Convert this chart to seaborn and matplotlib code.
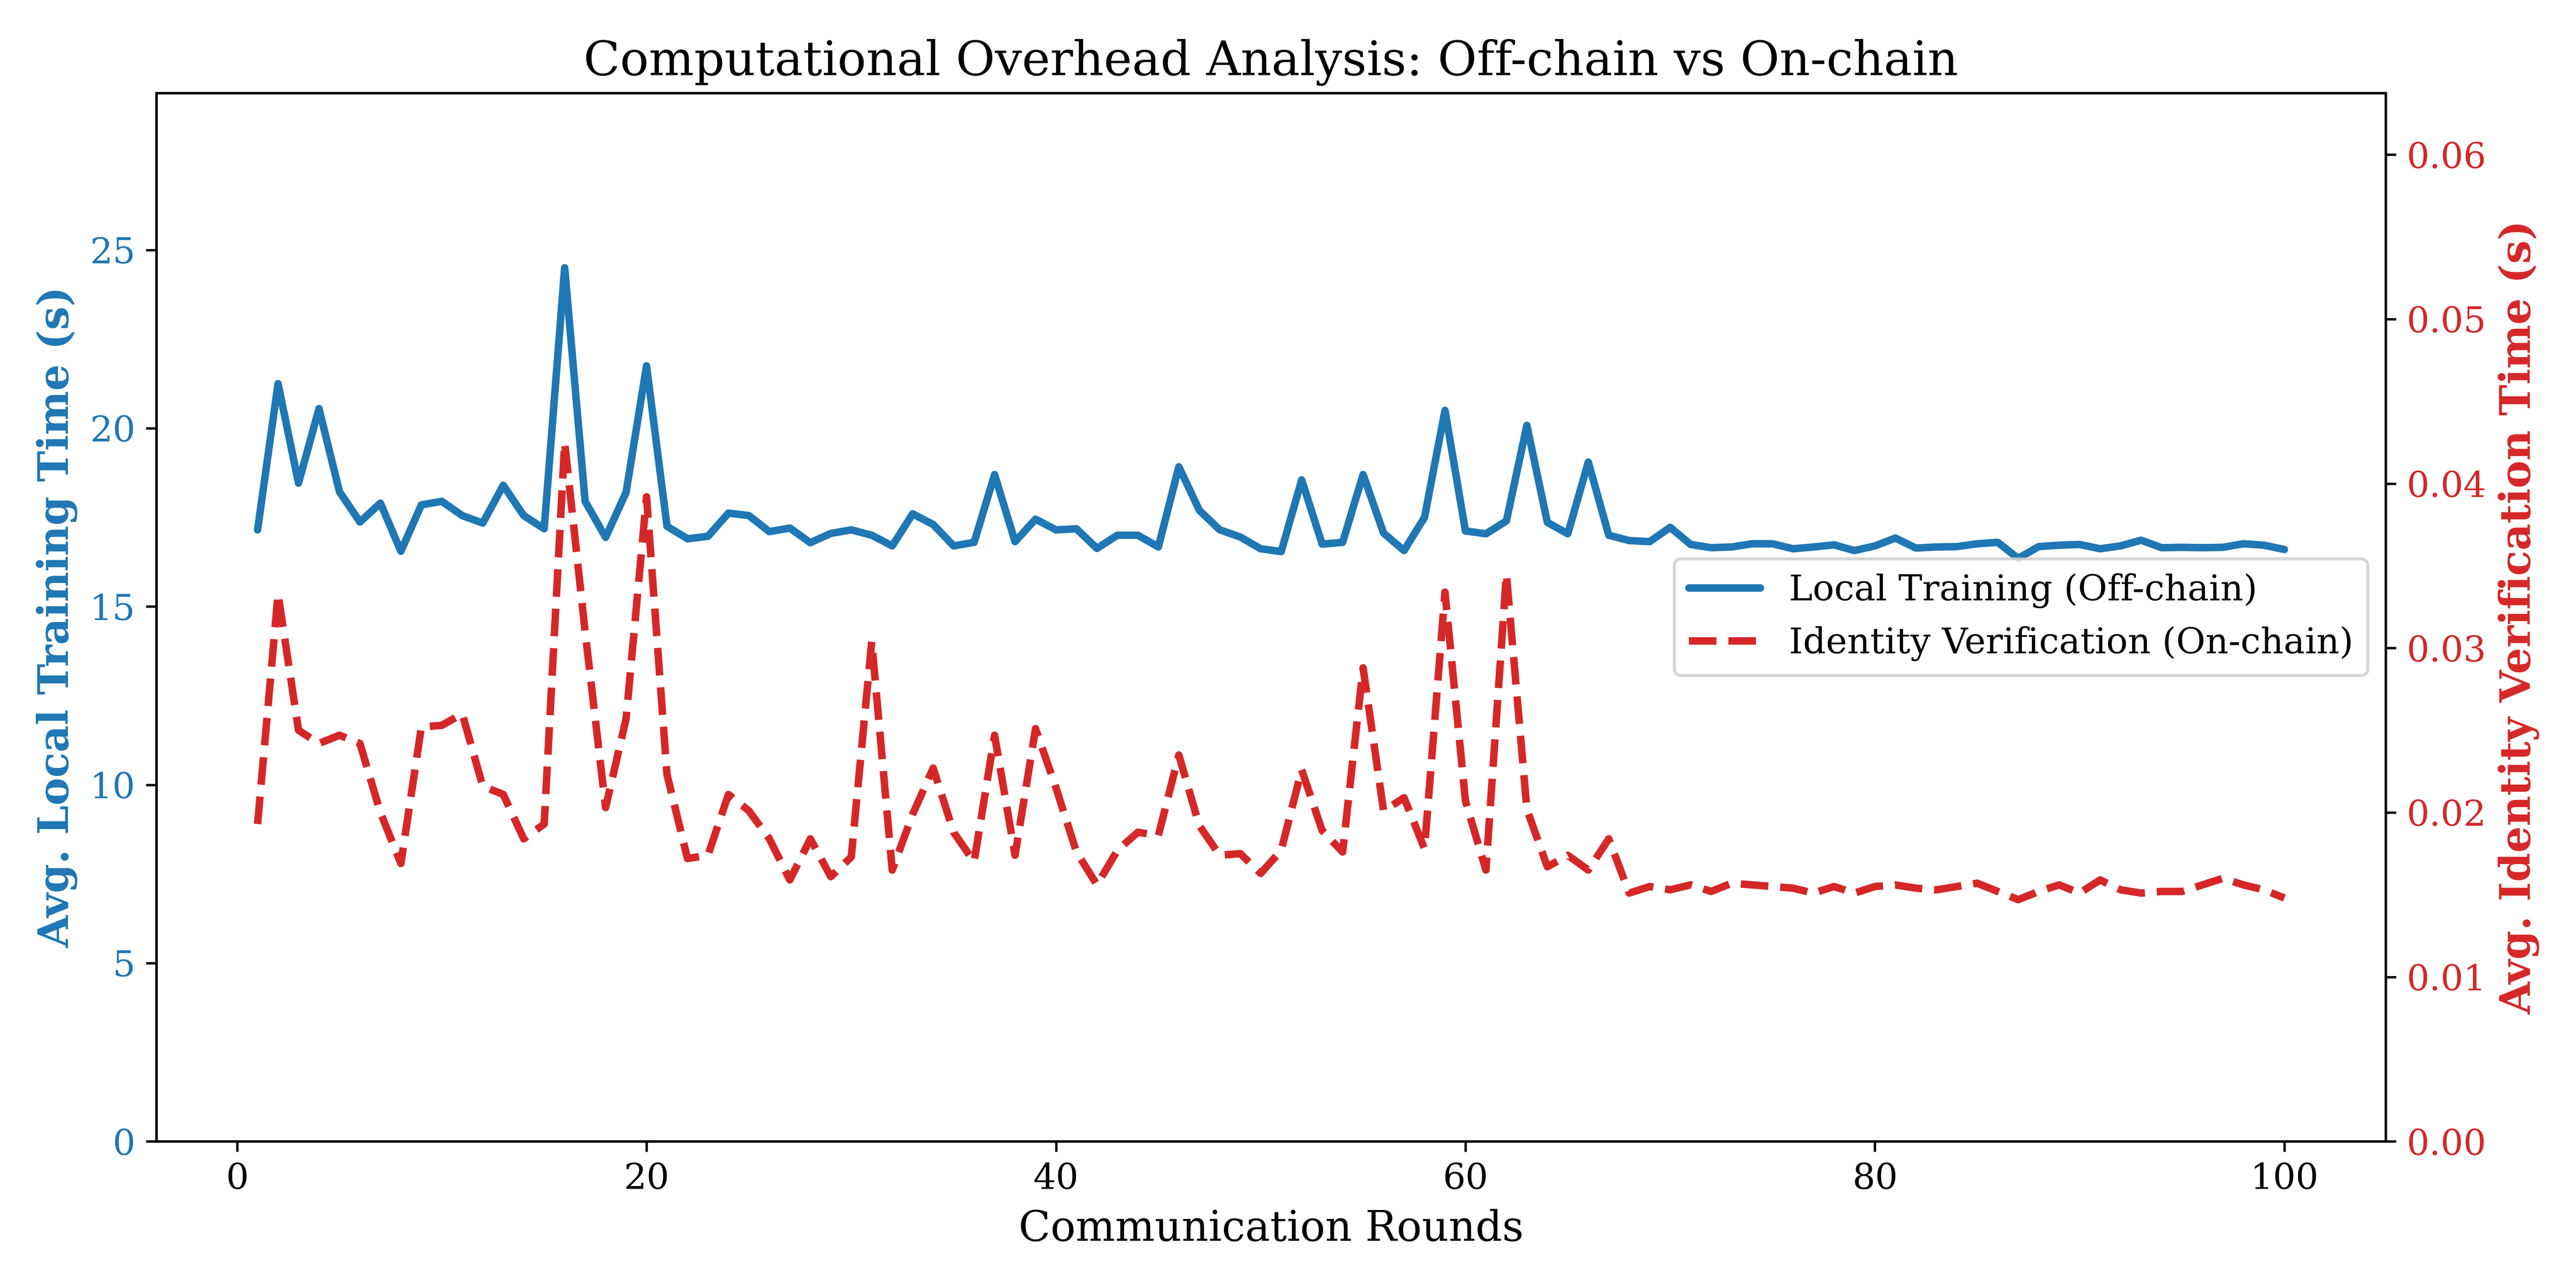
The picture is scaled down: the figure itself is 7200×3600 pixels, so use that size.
import numpy as np
import pandas as pd
import matplotlib
matplotlib.use("Agg")
import matplotlib.pyplot as plt
import seaborn as sns

rounds = list(range(1, 101))

# Avg. local training time per round (s), off-chain
training_time = [
    17.15, 21.25, 18.46, 20.55, 18.22, 17.37, 17.90, 16.55, 17.85, 17.95,
    17.55, 17.34, 18.40, 17.55, 17.18, 24.50, 17.95, 16.94, 18.20, 21.75,
    17.25, 16.90, 16.97, 17.62, 17.55, 17.10, 17.20, 16.79, 17.05, 17.15,
    17.00, 16.70, 17.60, 17.30, 16.70, 16.80, 18.70, 16.82, 17.45, 17.15,
    17.18, 16.63, 17.00, 17.00, 16.67, 18.92, 17.70, 17.15, 16.95, 16.62,
    16.54, 18.55, 16.75, 16.80, 18.70, 17.06, 16.57, 17.50, 20.50, 17.12,
    17.04, 17.40, 20.08, 17.36, 17.04, 19.05, 17.00, 16.85, 16.82, 17.22,
    16.74, 16.65, 16.67, 16.76, 16.76, 16.62, 16.67, 16.73, 16.57, 16.70,
    16.92, 16.64, 16.67, 16.68, 16.76, 16.80, 16.35, 16.68, 16.72, 16.74,
    16.62, 16.70, 16.86, 16.65, 16.66, 16.65, 16.66, 16.76, 16.72, 16.60,
]

# Avg. identity verification time per round (s), on-chain
verify_time = [
    0.0193, 0.0333, 0.0250, 0.0242, 0.0247, 0.0242, 0.0200, 0.0169, 0.0252, 0.0253,
    0.0260, 0.0216, 0.0211, 0.0184, 0.0193, 0.0425, 0.0310, 0.0203, 0.0257, 0.0392,
    0.0223, 0.0172, 0.0174, 0.0211, 0.0201, 0.0184, 0.0159, 0.0184, 0.0161, 0.0173,
    0.0304, 0.0165, 0.0199, 0.0227, 0.0188, 0.0170, 0.0247, 0.0174, 0.0251, 0.0215,
    0.0176, 0.0156, 0.0177, 0.0188, 0.0186, 0.0235, 0.0192, 0.0174, 0.0175, 0.0163,
    0.0177, 0.0226, 0.0189, 0.0176, 0.0288, 0.0201, 0.0209, 0.0178, 0.0334, 0.0207,
    0.0165, 0.0345, 0.0202, 0.0167, 0.0174, 0.0165, 0.0184, 0.0151, 0.0155, 0.0153,
    0.0156, 0.0152, 0.0157, 0.0156, 0.0155, 0.0154, 0.0151, 0.0155, 0.0151, 0.0155,
    0.0156, 0.0154, 0.0153, 0.0155, 0.0157, 0.0152, 0.0147, 0.0152, 0.0156, 0.0151,
    0.0159, 0.0153, 0.0151, 0.0152, 0.0152, 0.0156, 0.0160, 0.0156, 0.0153, 0.0148,
]

label_train = "Local Training (Off-chain)"
label_verify = "Identity Verification (On-chain)"
color_train = "#1f77b4"
color_verify = "#d62728"

# plain matplotlib-looking frame: thin spines, short ticks
sns.set_theme(style="ticks", rc={
    "axes.edgecolor": "black",
    "axes.linewidth": 0.8,
    "text.color": "black",
    "axes.labelcolor": "black",
    "xtick.color": "black",
    "ytick.color": "black",
    "xtick.major.size": 3.5,
    "ytick.major.size": 3.5,
    "xtick.major.width": 0.8,
    "ytick.major.width": 0.8,
    "xtick.major.pad": 3.5,
    "ytick.major.pad": 3.5,
})
plt.rcParams["font.family"] = ["DejaVu Serif"]

df = pd.DataFrame({
    "round": rounds,
    "train": training_time,
    "verify": verify_time,
})

fig, ax1 = plt.subplots(figsize=(12, 6))

sns.lineplot(data=df, x="round", y="train", ax=ax1, color=color_train,
             linewidth=2.5, label=label_train)
ax1.set_xlabel("Communication Rounds", fontsize=14)
ax1.set_ylabel("Avg. Local Training Time (s)", fontsize=14,
               fontweight="bold", color=color_train)
ax1.tick_params(axis="y", labelcolor=color_train, labelsize=12)
ax1.tick_params(axis="x", labelsize=12)
ax1.set_ylim(0, max(training_time) * 1.2)

ax2 = ax1.twinx()
sns.lineplot(data=df, x="round", y="verify", ax=ax2, color=color_verify,
             linewidth=2.5, linestyle="--", label=label_verify)
ax2.set_ylabel("Avg. Identity Verification Time (s)", fontsize=14,
               fontweight="bold", color=color_verify)
ax2.tick_params(axis="y", labelcolor=color_verify, labelsize=12)
ax2.set_ylim(0, max(verify_time) * 1.5)

# one legend for both axes
h1, l1 = ax1.get_legend_handles_labels()
h2, l2 = ax2.get_legend_handles_labels()
ax1.get_legend().remove()
ax2.get_legend().remove()
ax2.legend(h1 + h2, l1 + l2, loc="center right", fontsize=12, frameon=True)

ax1.set_title("Computational Overhead Analysis: Off-chain vs On-chain", fontsize=16)

plt.tight_layout()
plt.savefig("out.png", dpi=600)
plt.close()
